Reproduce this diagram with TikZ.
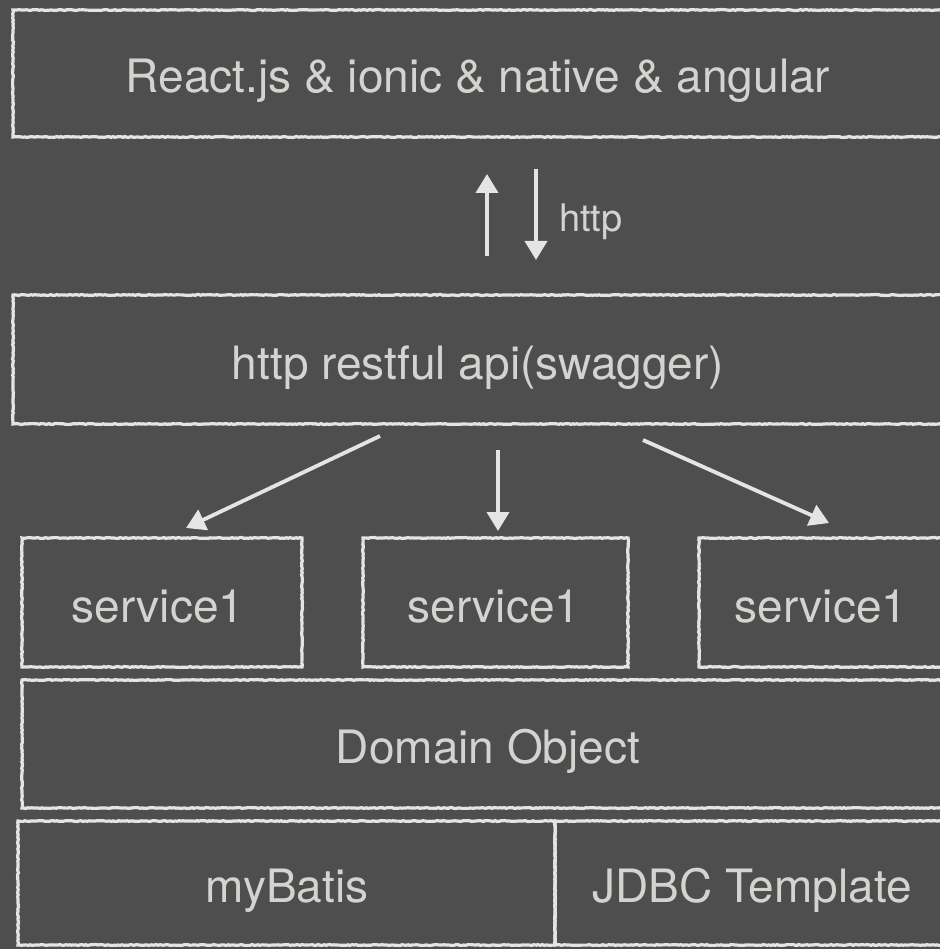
\documentclass[tikz,border=0pt]{standalone}
\usepackage{fontspec}
\setmainfont{TeX Gyre Heros}
\usetikzlibrary{arrows.meta,decorations.pathmorphing}
\definecolor{bg}{RGB}{78,78,78}
\definecolor{chalk}{RGB}{228,228,226}
\definecolor{ink}{RGB}{210,212,208}
\tikzset{
  box/.style={draw=chalk, line width=3.2pt, rectangle, inner sep=0pt,
    decorate, decoration={random steps, segment length=2pt, amplitude=0.45pt}},
  txt/.style={text=ink, font=\fontsize{46}{50}\selectfont, text height=33pt, text depth=0pt, inner sep=0pt},
  lbl/.style={text=ink, font=\fontsize{38}{42}\selectfont, text height=27pt, text depth=0pt, inner sep=0pt},
  arr/.style={draw=chalk, line width=3.8pt, -{Triangle[width=22pt,length=19pt]}}
}
\begin{document}
\begin{tikzpicture}[x=1pt,y=-1pt]
\fill[bg] (0,0) rectangle (940,949);
\useasboundingbox (0,0) rectangle (940,949);
\clip (0,0) rectangle (940,949);
% boxes
\node[box, minimum width=930pt, minimum height=127pt] (react) at (478,73.5) {};
\node[box, minimum width=930pt, minimum height=129pt] (api) at (478,359.5) {};
\node[box, minimum width=280pt, minimum height=129pt] (s1) at (162,602.5) {};
\node[box, minimum width=265pt, minimum height=129pt] (s2) at (495.5,602.5) {};
\node[box, minimum width=244pt, minimum height=129pt] (s3) at (821,602.5) {};
\node[box, minimum width=932pt, minimum height=128pt] (dom) at (488,744) {};
\node[box, minimum width=537pt, minimum height=124pt] (myb) at (286.5,883) {};
\node[box, minimum width=394pt, minimum height=124pt] (jdbc) at (752,883) {};
% texts
\node[txt] (treact) at (478,76) {React.js \& ionic \& native \& angular};
\node[txt] (tapi) at (478,363) {http restful api(swagger)};
\node[txt] (ts1) at (158,606) {service1};
\node[txt] (ts2) at (494,606) {service1};
\node[txt] (ts3) at (821,606) {service1};
\node[txt] (tdom) at (488,747) {Domain Object};
\node[txt] (tmyb) at (287,886) {myBatis};
\node[txt] (tjdbc) at (752,886) {JDBC Template};
\node[lbl, anchor=west] (http) at (559,218) {http};
% connector end points
\coordinate (upA) at (487,256);
\coordinate (upB) at (487,174);
\coordinate (dnA) at (536,169);
\coordinate (dnB) at (536,260);
\coordinate (lA) at (380,436);
\coordinate (lB) at (186,528);
\coordinate (mA) at (498,450);
\coordinate (mB) at (498,531);
\coordinate (rA) at (643,440);
\coordinate (rB) at (829,523);
% arrows
\draw[arr] (upA) -- (upB);
\draw[arr] (dnA) -- (dnB);
\draw[arr] (lA) -- (lB);
\draw[arr] (mA) -- (mB);
\draw[arr] (rA) -- (rB);
\end{tikzpicture}
\end{document}
